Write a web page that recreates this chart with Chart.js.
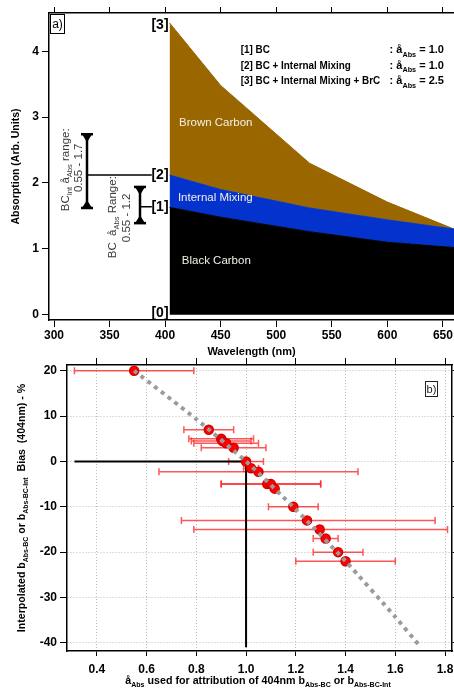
<!DOCTYPE html>
<html>
<head>
<meta charset="utf-8">
<script src="https://cdn.jsdelivr.net/npm/chart.js@4.4.1/dist/chart.umd.min.js"></script>
<style>
    html, body { margin: 0; padding: 0; background: #fff; }
    canvas { position: absolute; left: 0; }
    #absChart { top: 0; }
    #biasChart { top: 340px; }
</style>
</head>
<body>
<canvas id="absChart" width="454" height="362"></canvas>
<canvas id="biasChart" width="454" height="350"></canvas>
<script>
// panel a) - stacked absorption
const wavelengthNm = [404, 450, 530, 600, 660];
const blackCarbon = [1.63, 1.48, 1.26, 1.10, 1.02];
const internalMixing = [2.12, 1.90, 1.62, 1.44, 1.30];
const brownCarbon = [4.43, 3.48, 2.30, 1.71, 1.30];
const wavelengthTicks = [300, 350, 400, 450, 500, 550, 600, 650];
const absorptionTicks = [0, 1, 2, 3, 4];
const legendLabels = ['[1] BC', '[2] BC + Internal Mixing', '[3] BC + Internal Mixing + BrC'];
const legendAabs = ['1.0', '1.0', '2.5'];

// panel b) - bias vs AAE
const aabsUsed = [0.55, 0.85, 0.90, 0.905, 0.92, 0.95, 1.00, 1.02, 1.05, 1.085, 1.10, 1.115, 1.19, 1.245, 1.296, 1.32, 1.37, 1.40];
const biasPercent = [20, 7, 5, 4.5, 4, 3, 0, -1.5, -2.3, -5, -5, -6, -10, -13, -15, -17, -20, -22];
const aabsLow = [0.31, 0.75, 0.77, 0.78, 0.79, 0.82, 0.93, 0.99, 0.65, 0.90, 0.90, null, 1.09, 0.74, 0.79, 1.27, 1.27, 1.20];
const aabsHigh = [0.79, 0.95, 1.03, 1.02, 1.05, 1.08, 1.07, 1.05, 1.45, 1.30, 1.30, null, 1.29, 1.76, 1.81, 1.37, 1.47, 1.60];
const trendAabs = [0.55, 0.8, 1.0, 1.2, 1.4, 1.6, 1.7];
const trendBias = [20, 9.3, 0, -10.6, -22, -34.3, -40.8];
const refAabs = [0.31, 1.0, 1.0];
const refBias = [0, 0, -41];
const aabsTicks = [0.4, 0.6, 0.8, 1.0, 1.2, 1.4, 1.6, 1.8];
const biasTicks = [-40, -30, -20, -10, 0, 10, 20];

const FAMILY = '"Liberation Sans", Arial, Helvetica, sans-serif';
Chart.defaults.font.family = FAMILY;
Chart.defaults.color = '#000';

const xy = (xs, ys) => xs.map((v, i) => ({ x: v, y: ys[i] }));
const fixedTicks = vals => s => { s.ticks = vals.map(v => ({ value: v })); };
const fixW = w => s => { s.width = w; s.paddingTop = 0; s.paddingBottom = 0; };
const fixH = h => s => { s.height = h; s.paddingLeft = 0; s.paddingRight = 0; };

// text with subscripts, y is the baseline, hs squeezes horizontally
function richWidth(ctx, parts, size, weight) {
    let w = 0;
    parts.forEach(p => {
        ctx.font = `${weight} ${p.sub ? size * 0.66 : size}px ${FAMILY}`;
        w += ctx.measureText(p.t).width;
    });
    return w;
}
function drawRich(ctx, parts, x, y, size, weight, align, hs = 1) {
    const w = richWidth(ctx, parts, size, weight) * hs;
    const cx = align === 'center' ? x - w / 2 : (align === 'right' ? x - w : x);
    ctx.save();
    ctx.translate(cx, y);
    ctx.scale(hs, 1);
    ctx.textAlign = 'left';
    ctx.textBaseline = 'alphabetic';
    let ox = 0;
    parts.forEach(p => {
        ctx.font = `${weight} ${p.sub ? size * 0.66 : size}px ${FAMILY}`;
        ctx.fillText(p.t, ox, p.sub ? size * 0.3 : 0);
        ox += ctx.measureText(p.t).width;
    });
    ctx.restore();
}
function drawRotated(ctx, parts, cx, cy, size, weight, hs = 1) {
    ctx.save();
    ctx.translate(cx, cy);
    ctx.rotate(-Math.PI / 2);
    drawRich(ctx, parts, 0, size * 0.35, size, weight, 'center', hs);
    ctx.restore();
}
function rangeArrow(ctx, x, y1, y2) {
    ctx.beginPath();
    ctx.moveTo(x, y1); ctx.lineTo(x, y2);
    ctx.stroke();
    [[y1, 1], [y2, -1]].forEach(([ty, dir]) => {
        ctx.beginPath();
        ctx.moveTo(x - 6, ty); ctx.lineTo(x + 6, ty);
        ctx.stroke();
        ctx.beginPath();
        ctx.moveTo(x - 5, ty); ctx.lineTo(x + 5, ty); ctx.lineTo(x, ty + dir * 8);
        ctx.closePath();
        ctx.fill();
    });
}

const absAnnotations = {
    id: 'absAnnotations',
    afterDatasetsDraw(chart) {
        const { ctx, chartArea, scales: { x, y } } = chart;
        const px = v => x.getPixelForValue(v);
        const py = v => y.getPixelForValue(v);
        ctx.save();

        // labels inside the areas
        ctx.fillStyle = '#f4efe6';
        ctx.font = `11.5px ${FAMILY}`;
        ctx.textAlign = 'left';
        ctx.textBaseline = 'middle';
        ctx.fillText('Brown Carbon', px(412.5), py(2.92));
        ctx.fillText('Internal Mixing', px(411.5), py(1.77));
        ctx.fillText('Black Carbon', px(415), py(0.82));

        // curve markers
        ctx.fillStyle = '#000';
        ctx.font = `bold 14px ${FAMILY}`;
        ctx.textAlign = 'right';
        const lx = px(wavelengthNm[0]) - 1;
        ctx.fillText('[3]', lx, py(brownCarbon[0]) + 2);
        ctx.fillText('[2]', lx, py(internalMixing[0]));
        ctx.fillText('[1]', lx, py(blackCarbon[0]));
        ctx.fillText('[0]', lx, py(0) - 2);

        // legend
        legendLabels.forEach((lab, i) => {
            const by = py(4.03) + 4 + i * 15.5;
            drawRich(ctx, [{ t: lab }], px(468), by, 11.5, 'bold', 'left', 0.86);
            drawRich(ctx, [{ t: ': å' }, { t: 'Abs', sub: true }, { t: ' = ' + legendAabs[i] }], px(602), by, 11, 'bold', 'left');
        });

        // range arrows
        ctx.strokeStyle = '#000';
        ctx.fillStyle = '#000';
        ctx.lineWidth = 2.5;
        rangeArrow(ctx, px(329.7), py(2.74), py(1.62));
        rangeArrow(ctx, px(377.4), py(1.94), py(1.39));
        ctx.lineWidth = 1.5;
        ctx.beginPath();
        ctx.moveTo(px(329.7), py(2.12)); ctx.lineTo(px(388), py(2.12));
        ctx.moveTo(px(377.4), py(1.64)); ctx.lineTo(px(388), py(1.64));
        ctx.stroke();

        ctx.fillStyle = '#3a3a3a';
        drawRotated(ctx, [{ t: 'BC' }, { t: 'Int', sub: true }, { t: ' å' }, { t: 'Abs', sub: true }, { t: ' range:' }], px(309.9), py(2.2), 11.5, 'normal');
        drawRotated(ctx, [{ t: '0.55 - 1.7' }], px(321.6), py(2.23), 11.5, 'normal');
        drawRotated(ctx, [{ t: 'BC  å' }, { t: 'Abs', sub: true }, { t: ' Range:' }], px(352.2), py(1.48), 11.5, 'normal');
        drawRotated(ctx, [{ t: '0.55 - 1.2' }], px(364.8), py(1.47), 11.5, 'normal');

        // panel tag
        ctx.fillStyle = '#fff';
        ctx.fillRect(chartArea.left + 1, chartArea.top + 1, 15, 20);
        ctx.strokeStyle = '#000';
        ctx.lineWidth = 1;
        ctx.strokeRect(chartArea.left + 1.5, chartArea.top + 1.5, 14, 19);
        ctx.fillStyle = '#000';
        ctx.font = `12px ${FAMILY}`;
        ctx.textAlign = 'center';
        ctx.textBaseline = 'middle';
        ctx.fillText('a)', chartArea.left + 8.5, chartArea.top + 11.5);
        ctx.restore();
    }
};

new Chart(document.getElementById('absChart'), {
    type: 'line',
    data: {
        datasets: [
            { label: 'Black Carbon', data: xy(wavelengthNm, blackCarbon), fill: 'origin', backgroundColor: '#000', borderColor: '#000' },
            { label: 'Internal Mixing', data: xy(wavelengthNm, internalMixing), fill: '-1', backgroundColor: '#0432cc', borderColor: '#0432cc' },
            { label: 'Brown Carbon', data: xy(wavelengthNm, brownCarbon), fill: '-1', backgroundColor: '#996600', borderColor: '#996600' }
        ]
    },
    options: {
        responsive: false,
        animation: false,
        devicePixelRatio: 1,
        layout: { padding: 0, autoPadding: false },
        elements: { line: { tension: 0, borderWidth: 1 }, point: { radius: 0 } },
        plugins: { legend: { display: false }, tooltip: { enabled: false } },
        scales: {
            x: {
                type: 'linear', position: 'bottom', min: 295.5, max: 660,
                afterBuildTicks: fixedTicks(wavelengthTicks), afterFit: fixH(42),
                grid: { drawOnChartArea: false, tickLength: 7, color: '#000' },
                border: { color: '#000', width: 1.5 },
                ticks: { font: { size: 12, weight: 'bold' }, padding: 1, maxRotation: 0 },
                title: { display: true, text: 'Wavelength (nm)', font: { size: 11, weight: 'bold' }, padding: { top: 0, bottom: 3 } }
            },
            xTop: {
                type: 'linear', position: 'top', min: 295.5, max: 660,
                afterBuildTicks: fixedTicks(wavelengthTicks), afterFit: fixH(13),
                grid: { drawOnChartArea: false, tickLength: 6, color: '#000' },
                border: { color: '#000', width: 1.5 },
                ticks: { display: false }
            },
            y: {
                type: 'linear', position: 'left', min: -0.08, max: 4.58,
                afterBuildTicks: fixedTicks(absorptionTicks), afterFit: fixW(49),
                grid: { drawOnChartArea: false, tickLength: 7, color: '#000' },
                border: { color: '#000', width: 1.5 },
                ticks: { font: { size: 12, weight: 'bold' }, padding: 3 },
                title: { display: true, text: 'Absorption (Arb. Units)', font: { size: 10.5, weight: 'bold' }, padding: { top: 10, bottom: 0 } }
            }
        }
    },
    plugins: [absAnnotations]
});

const errorBars = {
    id: 'errorBars',
    beforeDatasetsDraw(chart) {
        const { ctx, scales: { x, y } } = chart;
        ctx.save();
        ctx.strokeStyle = 'rgba(255, 30, 30, 0.75)';
        ctx.lineWidth = 1.5;
        aabsUsed.forEach((a, i) => {
            if (aabsLow[i] === null) return;
            const py = y.getPixelForValue(biasPercent[i]);
            const x1 = x.getPixelForValue(aabsLow[i]);
            const x2 = x.getPixelForValue(aabsHigh[i]);
            ctx.beginPath();
            ctx.moveTo(x1, py); ctx.lineTo(x2, py);
            ctx.moveTo(x1, py - 3.5); ctx.lineTo(x1, py + 3.5);
            ctx.moveTo(x2, py - 3.5); ctx.lineTo(x2, py + 3.5);
            ctx.stroke();
        });
        ctx.restore();
    }
};

const biasLabels = {
    id: 'biasLabels',
    afterDraw(chart) {
        const { ctx, chartArea } = chart;
        ctx.save();
        ctx.fillStyle = '#000';
        drawRotated(ctx, [
            { t: 'Interpolated b' }, { t: 'Abs-BC', sub: true }, { t: ' or b' }, { t: 'Abs-BC-Int', sub: true }, { t: '  Bias  (404nm) - %' }
        ], 21, (chartArea.top + chartArea.bottom) / 2, 11.5, 'bold', 0.92);
        drawRich(ctx, [
            { t: 'å' }, { t: 'Abs', sub: true }, { t: ' used for attribution of 404nm b' }, { t: 'Abs-BC', sub: true }, { t: ' or b' }, { t: 'Abs-BC-Int', sub: true }
        ], 258, chart.height - 6, 11.5, 'bold', 'center', 0.93);

        // panel tag
        const bx = chartArea.right - 27, by = chartArea.top + 16;
        ctx.fillStyle = '#fff';
        ctx.fillRect(bx, by, 12, 15);
        ctx.strokeStyle = '#222';
        ctx.lineWidth = 1;
        ctx.strokeRect(bx + 0.5, by + 0.5, 12, 15);
        ctx.fillStyle = '#222';
        ctx.font = `11px ${FAMILY}`;
        ctx.textAlign = 'center';
        ctx.textBaseline = 'middle';
        ctx.fillText('b)', bx + 6.5, by + 8.5);
        ctx.restore();
    }
};

const gridDots = { color: '#bdbdbd', tickColor: '#000', tickBorderDash: [] };

new Chart(document.getElementById('biasChart'), {
    data: {
        datasets: [
            { type: 'line', data: xy(trendAabs, trendBias), borderColor: '#9b9b9b', borderWidth: 4, borderDash: [4, 4.5], pointRadius: 0, tension: 0.2, order: 0 },
            { type: 'scatter', data: xy(aabsUsed, biasPercent), backgroundColor: '#ff0000', borderColor: '#d40000', borderWidth: 1.5, pointRadius: 4.5, order: 1 },
            { type: 'line', data: xy(refAabs, refBias), borderColor: '#000', borderWidth: 2, pointRadius: 0, tension: 0, order: 2 }
        ]
    },
    options: {
        responsive: false,
        animation: false,
        devicePixelRatio: 1,
        layout: { padding: 0, autoPadding: false },
        plugins: { legend: { display: false }, tooltip: { enabled: false } },
        scales: {
            x: {
                type: 'linear', position: 'bottom', min: 0.28, max: 1.828,
                afterBuildTicks: fixedTicks(aabsTicks), afterFit: fixH(39),
                grid: { ...gridDots, tickLength: 5 },
                border: { color: '#000', width: 1.5, dash: [1, 2] },
                ticks: { font: { size: 12, weight: 'bold' }, padding: 6, maxRotation: 0, callback: v => v.toFixed(1) }
            },
            xTop: {
                type: 'linear', position: 'top', min: 0.28, max: 1.828,
                afterBuildTicks: fixedTicks(aabsTicks), afterFit: fixH(25),
                grid: { drawOnChartArea: false, tickLength: 7, color: '#000' },
                border: { color: '#000', width: 1.5 },
                ticks: { display: false }
            },
            y: {
                type: 'linear', position: 'left', min: -41.8, max: 21.26,
                afterBuildTicks: fixedTicks(biasTicks), afterFit: fixW(67),
                grid: { ...gridDots, tickLength: 7 },
                border: { color: '#000', width: 1.5, dash: [1, 2] },
                ticks: { font: { size: 12, weight: 'bold' }, padding: 3 }
            },
            yRight: {
                type: 'linear', position: 'right', min: -41.8, max: 21.26,
                afterBuildTicks: fixedTicks(biasTicks), afterFit: fixW(2),
                grid: { drawOnChartArea: false, tickLength: 5, color: '#000' },
                border: { color: '#000', width: 1.5 },
                ticks: { display: false }
            }
        }
    },
    plugins: [errorBars, biasLabels]
});
</script>
</body>
</html>
